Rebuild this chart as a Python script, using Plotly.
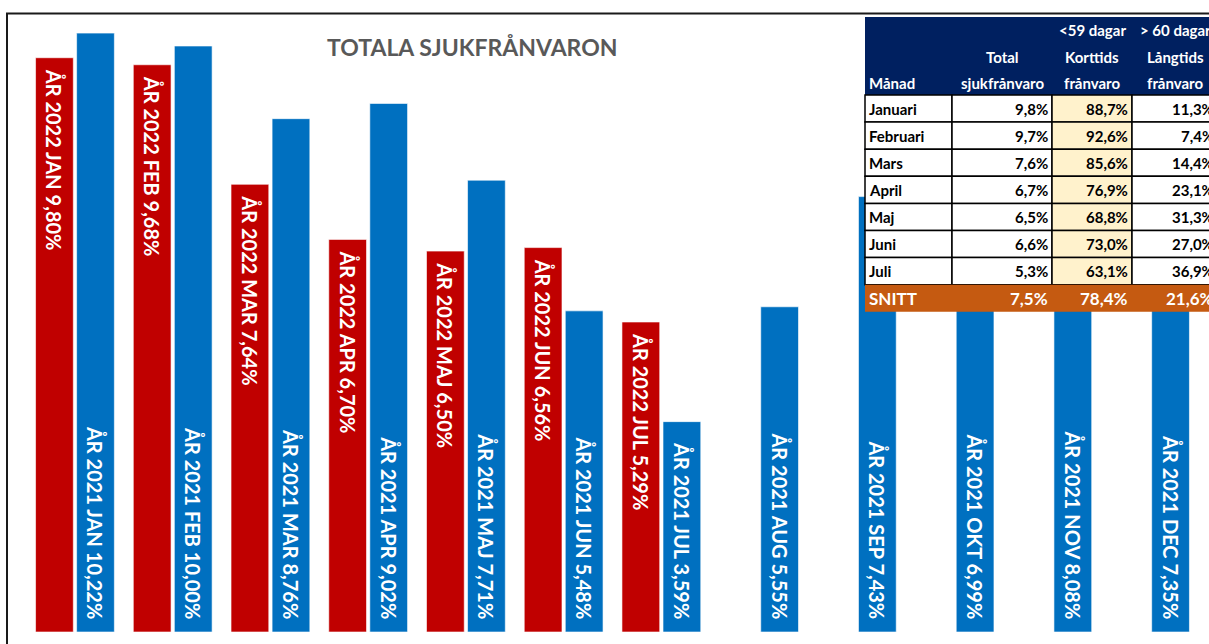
import plotly.graph_objects as go

# ---------------- data ----------------
months = ["JAN", "FEB", "MAR", "APR", "MAJ", "JUN", "JUL", "AUG", "SEP", "OKT", "NOV", "DEC"]
values_2022 = [9.80, 9.68, 7.64, 6.70, 6.50, 6.56, 5.29]
values_2021 = [10.22, 10.00, 8.76, 9.02, 7.71, 5.48, 3.59, 5.55, 7.43, 6.99, 8.08, 7.35]

title_text = "TOTALA SJUKFRÅNVARON"

table_months = ["Januari", "Februari", "Mars", "April", "Maj", "Juni", "Juli"]
table_total = ["9,8%", "9,7%", "7,6%", "6,7%", "6,5%", "6,6%", "5,3%"]
table_short = ["88,7%", "92,6%", "85,6%", "76,9%", "68,8%", "73,0%", "63,1%"]
table_long = ["11,3%", "7,4%", "14,4%", "23,1%", "31,3%", "27,0%", "36,9%"]
snitt_row = ["SNITT", "7,5%", "78,4%", "21,6%"]
header_line1 = ["", "", "<59 dagar", "> 60 dagar"]
header_line2 = ["", "Total", "Korttids", "Långtids"]
header_line3 = ["Månad", "sjukfrånvaro", "frånvaro", "frånvaro"]

# ---------------- figure geometry ----------------
W, H = 1209, 644


def X(px):
    return px / W


def Y(py):
    return 1 - py / H


RED = "#C00000"
BLUE = "#0070C0"
NB = "\u00a0"


def fmt(v):
    return f"{v:.2f}".replace(".", ",") + "%"


text_2022 = [NB * 2 + f"ÅR 2022 {m} {fmt(v)}" for m, v in zip(months, values_2022)]
text_2021 = [f"ÅR 2021 {m} {fmt(v)}" + NB * 2 for m, v in zip(months, values_2021)]

bar_font = dict(family="Lato", size=20, color="white", weight="bold")

fig = go.Figure()
fig.add_trace(go.Bar(
    x=months[:len(values_2022)], y=values_2022, name="2022",
    marker=dict(color=RED, line=dict(color="rgba(255,255,255,0.6)", width=1)),
    text=text_2022, textposition="inside", insidetextanchor="end", textangle=90,
    textfont=bar_font, constraintext="none", hoverinfo="skip",
))
fig.add_trace(go.Bar(
    x=months, y=values_2021, name="2021",
    marker=dict(color=BLUE, line=dict(color="rgba(255,255,255,0.6)", width=1)),
    text=text_2021, textposition="inside", insidetextanchor="start", textangle=90,
    textfont=bar_font, constraintext="none", hoverinfo="skip",
))

y_max = 10.5
fig.update_layout(
    width=W, height=H,
    margin=dict(l=0, r=0, t=0, b=0),
    paper_bgcolor="white", plot_bgcolor="white",
    barmode="group", bargap=0.16, bargroupgap=0.08,
    showlegend=False,
    xaxis=dict(domain=[X(26.1), X(1198.9)], categoryorder="array", categoryarray=months,
               showticklabels=False, showgrid=False, zeroline=False, showline=False),
    yaxis=dict(domain=[Y(632), Y(632 - y_max * 58.6)], range=[0, y_max],
               showticklabels=False, showgrid=False, zeroline=False, showline=False),
)

shapes = []
annotations = []

# outer chart border
shapes.append(dict(type="rect", xref="paper", yref="paper",
                   x0=X(7), x1=X(1260), y0=Y(700), y1=Y(13.5),
                   line=dict(color="#1a1a1a", width=2), fillcolor="rgba(0,0,0,0)", layer="above"))

# title
annotations.append(dict(x=X(472), y=Y(47), xref="paper", yref="paper", text=title_text,
                        showarrow=False, xanchor="center", yanchor="middle",
                        font=dict(family="Lato", size=23, color="#595959", weight="bold")))

# ---------------- table ----------------
col_edges = [865, 952, 1052, 1132, 1218]
header_top, header_bot = 17, 95
row_h = 27.1
NAVY = "#002060"
YELLOW = "#FFF2CC"
ORANGE = "#C55A11"

shapes.append(dict(type="rect", xref="paper", yref="paper",
                   x0=X(col_edges[0]), x1=X(1240), y0=Y(header_bot), y1=Y(header_top),
                   fillcolor=NAVY, line=dict(width=0), layer="above"))
hdr_font = dict(family="Lato", size=15, color="white", weight="bold")
for li, line in enumerate([header_line1, header_line2, header_line3]):
    ypx = [30, 57, 83][li]
    for ci, txt in enumerate(line):
        if not txt:
            continue
        if ci == 0:
            annotations.append(dict(x=X(col_edges[0] + 2), y=Y(ypx), xref="paper", yref="paper",
                                    text=txt, showarrow=False, xanchor="left", yanchor="middle",
                                    font=hdr_font))
        else:
            cx = (col_edges[ci] + col_edges[ci + 1]) / 2
            annotations.append(dict(x=X(cx), y=Y(ypx), xref="paper", yref="paper",
                                    text=txt, showarrow=False, xanchor="center", yanchor="middle",
                                    font=hdr_font))

cell_font = dict(family="Lato", size=15, color="black", weight="bold")
for ri in range(len(table_months)):
    top = header_bot + ri * row_h
    bot = top + row_h
    row_vals = [table_months[ri], table_total[ri], table_short[ri], table_long[ri]]
    for ci in range(4):
        fill = YELLOW if ci == 2 else "white"
        shapes.append(dict(type="rect", xref="paper", yref="paper",
                           x0=X(col_edges[ci]), x1=X(col_edges[ci + 1]), y0=Y(bot), y1=Y(top),
                           fillcolor=fill, line=dict(color="black", width=1.5), layer="above"))
        ymid = (top + bot) / 2
        if ci == 0:
            annotations.append(dict(x=X(col_edges[0] + 2), y=Y(ymid), xref="paper", yref="paper",
                                    text=row_vals[ci], showarrow=False, xanchor="left",
                                    yanchor="middle", font=cell_font))
        else:
            annotations.append(dict(x=X(col_edges[ci + 1] - 2), y=Y(ymid), xref="paper", yref="paper",
                                    text=row_vals[ci], showarrow=False, xanchor="right",
                                    yanchor="middle", font=cell_font))

snitt_top = header_bot + len(table_months) * row_h
snitt_bot = snitt_top + row_h
shapes.append(dict(type="rect", xref="paper", yref="paper",
                   x0=X(col_edges[0]), x1=X(1240), y0=Y(snitt_bot), y1=Y(snitt_top),
                   fillcolor=ORANGE, line=dict(width=0), layer="above"))
snitt_font = dict(family="Lato", size=17, color="white", weight="bold")
for ci, txt in enumerate(snitt_row):
    ymid = (snitt_top + snitt_bot) / 2
    if ci == 0:
        annotations.append(dict(x=X(col_edges[0] + 2), y=Y(ymid), xref="paper", yref="paper",
                                text=txt, showarrow=False, xanchor="left", yanchor="middle",
                                font=snitt_font))
    else:
        annotations.append(dict(x=X(col_edges[ci + 1] - 2), y=Y(ymid), xref="paper", yref="paper",
                                text=txt, showarrow=False, xanchor="right", yanchor="middle",
                                font=snitt_font))

fig.update_layout(shapes=shapes, annotations=annotations)
fig.write_html("out.html", config={"displayModeBar": False},
               post_script="document.body.style.margin='0';document.body.style.overflow='hidden';")
